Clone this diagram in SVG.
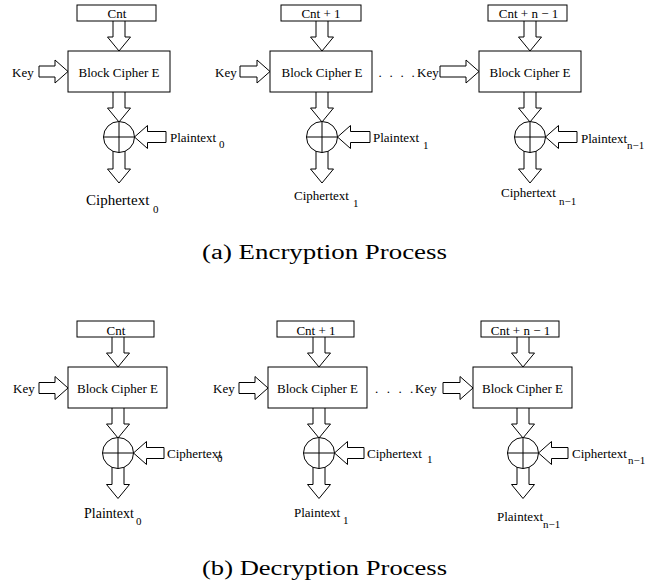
<svg xmlns="http://www.w3.org/2000/svg" width="656" height="584" viewBox="0 0 656 584" font-family="'Liberation Serif', 'Times New Roman', serif">
<style>
.box{fill:#fff;stroke:#000;stroke-width:1}
.ar{fill:#fff;stroke:#000;stroke-width:1;stroke-linejoin:miter}
.x{fill:none;stroke:#000;stroke-width:1}
text{font-family:"Liberation Serif","Times New Roman",serif;font-size:13px;fill:#000}
.c{text-anchor:middle}
.sub{font-size:11px}
.big{font-size:15px}
.mid{font-size:14px}
.cap{font-size:20px}
</style>
<defs>
<path id="dn" class="ar" d="M-6,-4 V16 H-11.5 L0,30 L11.5,16 H6 V-4 Z"/>
</defs>
<rect width="656" height="584" fill="#fff"/>
<g id="connectors">
<use href="#dn" x="119" y="21"/>
<use href="#dn" x="119" y="92"/>
<use href="#dn" x="119" y="153"/>
<use href="#dn" x="322" y="21"/>
<use href="#dn" x="322" y="92"/>
<use href="#dn" x="322" y="153"/>
<use href="#dn" x="530" y="21"/>
<use href="#dn" x="530" y="92"/>
<use href="#dn" x="530" y="153"/>
<use href="#dn" x="118" y="337"/>
<use href="#dn" x="118" y="408"/>
<use href="#dn" x="118" y="468.5"/>
<use href="#dn" x="319" y="337"/>
<use href="#dn" x="319" y="408"/>
<use href="#dn" x="319" y="468.5"/>
<use href="#dn" x="523" y="337"/>
<use href="#dn" x="523" y="408"/>
<use href="#dn" x="523" y="468.5"/>
<path class="ar" d="M68,71.5 L55,60 V66 H39 V77 H55 V83 Z"/>
<path class="ar" d="M270,71.5 L257,60 V66 H240 V77 H257 V83 Z"/>
<path class="ar" d="M479,71.5 L466,60 V66 H440 V77 H466 V83 Z"/>
<path class="ar" d="M68,388 L55,376.5 V382.5 H39 V393.5 H55 V399.5 Z"/>
<path class="ar" d="M268,388 L255,376.5 V382.5 H239 V393.5 H255 V399.5 Z"/>
<path class="ar" d="M473,388 L460,376.5 V382.5 H443 V393.5 H460 V399.5 Z"/>
<path class="ar" d="M134.5,137 L147.5,125.5 V131.5 H166 V142.5 H147.5 V148.5 Z"/>
<path class="ar" d="M337.5,137 L350.5,125.5 V131.5 H370 V142.5 H350.5 V148.5 Z"/>
<path class="ar" d="M545.5,137 L558.5,125.5 V131.5 H577 V142.5 H558.5 V148.5 Z"/>
<path class="ar" d="M133.5,453 L146.5,441.5 V447.5 H164 V458.5 H146.5 V464.5 Z"/>
<path class="ar" d="M334.5,453 L347.5,441.5 V447.5 H364 V458.5 H347.5 V464.5 Z"/>
<path class="ar" d="M538.5,453 L551.5,441.5 V447.5 H568 V458.5 H551.5 V464.5 Z"/>
</g>
<g id="enc-cnt0"><rect class="box" x="77" y="5" width="79" height="16"/><text class="c" x="117" y="18">Cnt</text></g>
<g id="enc-block0"><rect class="box" x="68" y="51" width="102" height="41"/><text class="c" x="119" y="77">Block Cipher E</text></g>
<g id="enc-key0"><text x="12" y="77">Key</text></g>
<g id="enc-xor0"><circle class="box" cx="119" cy="137" r="15.5"/><path class="x" d="M103.5,137 H134.5 M119,121.5 V152.5"/></g>
<g id="enc-pt0"><text x="170" y="141.5">Plaintext<tspan class="sub" x="219" y="147.5">0</tspan></text></g>
<g id="enc-ct0"><text class="big" x="86" y="205">Ciphertext<tspan class="sub" x="153" y="213">0</tspan></text></g>
<g id="enc-cnt1"><rect class="box" x="281" y="5" width="80" height="16"/><text class="c" x="321" y="18">Cnt + 1</text></g>
<g id="enc-block1"><rect class="box" x="270" y="51" width="102" height="41"/><text class="c" x="322" y="77">Block Cipher E</text></g>
<g id="enc-key1"><text x="215" y="77">Key</text></g>
<g id="enc-dots"><text x="378.5 389.5 400.5 411.5" y="77">....</text></g>
<g id="enc-xor1"><circle class="box" cx="322" cy="137" r="15.5"/><path class="x" d="M306.5,137 H337.5 M322,121.5 V152.5"/></g>
<g id="enc-pt1"><text x="373" y="142">Plaintext<tspan class="sub" x="423" y="149">1</tspan></text></g>
<g id="enc-ct1"><text x="294" y="200">Ciphertext<tspan class="sub" x="353" y="207">1</tspan></text></g>
<g id="enc-cnt2"><rect class="box" x="488" y="5" width="79" height="16"/><text class="c" x="528.5" y="18">Cnt + n − 1</text></g>
<g id="enc-block2"><rect class="box" x="479" y="51" width="102" height="41"/><text class="c" x="530" y="77">Block Cipher E</text></g>
<g id="enc-key2"><text x="417" y="77">Key</text></g>
<g id="enc-xor2"><circle class="box" cx="530" cy="137" r="15.5"/><path class="x" d="M514.5,137 H545.5 M530,121.5 V152.5"/></g>
<g id="enc-pt2"><text x="581" y="142.5">Plaintext<tspan class="sub" x="627" y="148.5">n−1</tspan></text></g>
<g id="enc-ct2"><text x="501" y="197">Ciphertext<tspan class="sub" x="559" y="205">n−1</tspan></text></g>
<g id="caption-a"><text class="cap" x="202" y="259" textLength="245" lengthAdjust="spacingAndGlyphs">(a) Encryption Process</text></g>
<g id="dec-cnt0"><rect class="box" x="77" y="321" width="77" height="16"/><text class="c" x="116" y="334.5">Cnt</text></g>
<g id="dec-block0"><rect class="box" x="68" y="367" width="99" height="41"/><text class="c" x="117.5" y="393">Block Cipher E</text></g>
<g id="dec-key0"><text x="13" y="393">Key</text></g>
<g id="dec-xor0"><circle class="box" cx="118" cy="453" r="15.5"/><path class="x" d="M102.5,453 H133.5 M118,437.5 V468.5"/></g>
<g id="dec-ct0"><text x="167" y="457.5">Ciphertext<tspan class="sub" x="217" y="462">0</tspan></text></g>
<g id="dec-pt0"><text class="mid" x="84" y="518">Plaintext<tspan class="sub" x="136" y="525">0</tspan></text></g>
<g id="dec-cnt1"><rect class="box" x="277" y="321" width="77" height="16"/><text class="c" x="316" y="334.5">Cnt + 1</text></g>
<g id="dec-block1"><rect class="box" x="268" y="367" width="99" height="41"/><text class="c" x="317.5" y="393">Block Cipher E</text></g>
<g id="dec-key1"><text x="213" y="393">Key</text></g>
<g id="dec-dots"><text x="375 386.7 398.4 410" y="393">....</text></g>
<g id="dec-xor1"><circle class="box" cx="319" cy="453" r="15.5"/><path class="x" d="M303.5,453 H334.5 M319,437.5 V468.5"/></g>
<g id="dec-ct1"><text x="367" y="458">Ciphertext<tspan class="sub" x="427" y="463">1</tspan></text></g>
<g id="dec-pt1"><text x="294" y="517">Plaintext<tspan class="sub" x="343" y="524">1</tspan></text></g>
<g id="dec-cnt2"><rect class="box" x="481" y="321" width="78" height="16"/><text class="c" x="520.5" y="334.5">Cnt + n − 1</text></g>
<g id="dec-block2"><rect class="box" x="473" y="367" width="99" height="41"/><text class="c" x="522.5" y="393">Block Cipher E</text></g>
<g id="dec-key2"><text x="415" y="393">Key</text></g>
<g id="dec-xor2"><circle class="box" cx="523" cy="453" r="15.5"/><path class="x" d="M507.5,453 H538.5 M523,437.5 V468.5"/></g>
<g id="dec-ct2"><text x="572" y="458">Ciphertext<tspan class="sub" x="628" y="464">n−1</tspan></text></g>
<g id="dec-pt2"><text x="497" y="521">Plaintext<tspan class="sub" x="543" y="528">n−1</tspan></text></g>
<g id="caption-b"><text class="cap" x="202" y="575" textLength="245" lengthAdjust="spacingAndGlyphs">(b) Decryption Process</text></g>
</svg>
